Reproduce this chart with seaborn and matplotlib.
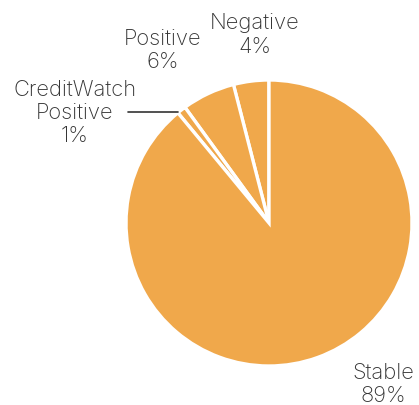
import numpy as np
import seaborn as sns
import matplotlib
matplotlib.use('Agg')
import matplotlib.pyplot as plt

categories = ["Negative", "Positive", "CreditWatch\nPositive", "Stable"]
shares = [4, 6, 1, 89]
pct_labels = ["4%", "6%", "1%", "89%"]

sns.set_theme(style="white")
plt.rcParams['font.family'] = ['Inter', 'DejaVu Sans']

orange = "#F0A84B"
text_color = "#333333"

fig = plt.figure(figsize=(4.19, 4.06), dpi=100)
fig.patch.set_facecolor("white")
ax = fig.add_axes([0, 0, 1, 1])

wedges, _ = ax.pie(
    shares,
    colors=[orange] * len(shares),
    startangle=90,
    counterclock=True,
    radius=1.0,
    wedgeprops=dict(edgecolor="white", linewidth=2.4),
)

# pie centre sits at (269, 224) px, radius 143 px
ax.set_xlim(-269 / 143, 150 / 143)
ax.set_ylim(-182 / 143, 224 / 143)
ax.set_aspect("auto")
ax.axis("off")

label_pos = [(-0.098, 1.322), (-0.741, 1.217), (-1.357, 0.776), (0.797, -1.119)]
for name, pct, (x, y) in zip(categories, pct_labels, label_pos):
    ax.text(x, y, f"{name}\n{pct}", ha="center", va="center", fontsize=15.8,
            color=text_color, fontweight="light", linespacing=1.2)

# leader line for the thin CreditWatch slice
w = wedges[2]
mid = np.deg2rad((w.theta1 + w.theta2) / 2)
ax.plot([-0.986, np.cos(mid) - 0.02], [0.776, 0.776], color=text_color, lw=1.2)

fig.savefig("out.png", dpi=100)
